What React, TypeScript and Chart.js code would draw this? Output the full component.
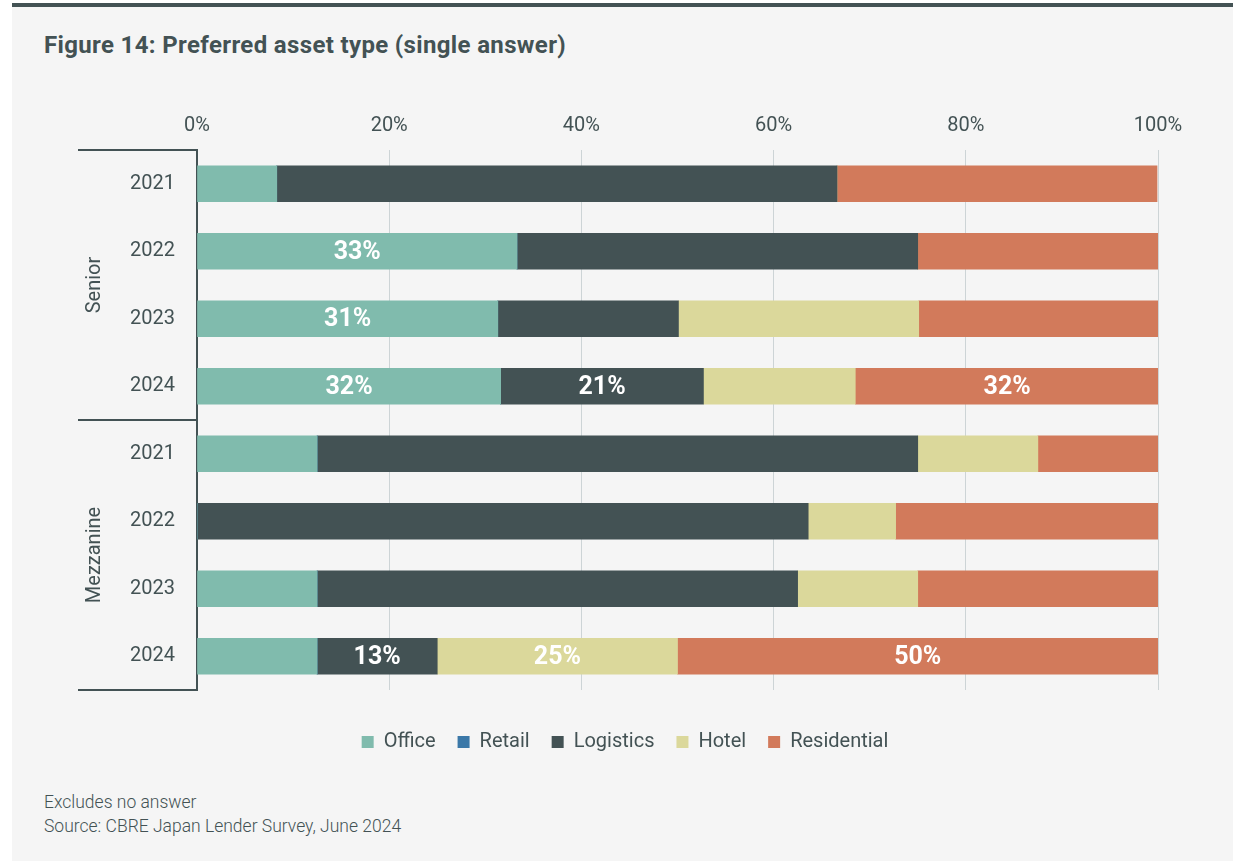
import React, { useEffect, useRef } from 'react';
import { Chart, registerables } from 'chart.js';
Chart.register(...registerables);

const categories = ['2021', '2022', '2023', '2024', '2021', '2022', '2023', '2024'];
const groups = ['Senior', 'Mezzanine'];
const groupSizes = [4, 4];
const xTicks = [0, 20, 40, 60, 80, 100];

const office = [8.3, 33.3, 31.3, 31.6, 12.5, 0, 12.5, 12.5];
const retail = [0, 0, 0, 0, 0, 0, 0, 0];
const logistics = [58.3, 41.7, 18.8, 21.1, 62.5, 63.6, 50, 12.5];
const hotel = [0, 0, 25, 15.8, 12.5, 9.1, 12.5, 25];
const residential = [33.3, 25, 25, 31.6, 12.5, 27.3, 25, 50];

const officeLabels = ['', '33%', '31%', '32%', '', '', '', ''];
const retailLabels = ['', '', '', '', '', '', '', ''];
const logisticsLabels = ['', '', '', '21%', '', '', '', '13%'];
const hotelLabels = ['', '', '', '', '', '', '', '25%'];
const residentialLabels = ['', '', '', '32%', '', '', '', '50%'];

const TEXT = '#435254';
const CANVAS_LEFT = 16;

export default function App() {
  const ref = useRef<HTMLCanvasElement>(null);
  useEffect(() => {
    document.body.style.margin = '0';
    const labelSets = [officeLabels, retailLabels, logisticsLabels, hotelLabels, residentialLabels];

    const barLabels = {
      id: 'barLabels',
      afterDatasetsDraw(chart: any) {
        const ctx = chart.ctx;
        ctx.save();
        ctx.font = 'bold 25px Roboto';
        ctx.fillStyle = '#ffffff';
        ctx.textAlign = 'center';
        ctx.textBaseline = 'middle';
        chart.data.datasets.forEach((ds: any, i: number) => {
          const meta = chart.getDatasetMeta(i);
          meta.data.forEach((el: any, j: number) => {
            const t = labelSets[i][j];
            if (!t) return;
            ctx.fillText(t, (el.x + el.base) / 2, el.y + 1);
          });
        });
        ctx.restore();
      },
    };

    const groupBrackets = {
      id: 'groupBrackets',
      afterDraw(chart: any) {
        const ctx = chart.ctx;
        const area = chart.chartArea;
        const y = chart.scales.y;
        const x0 = 78 - CANVAS_LEFT;
        ctx.save();
        ctx.strokeStyle = TEXT;
        ctx.lineWidth = 2;
        const bounds: number[] = [area.top];
        let idx = 0;
        groupSizes.forEach((n, g) => {
          idx += n;
          if (g < groupSizes.length - 1) {
            bounds.push((y.getPixelForValue(idx - 1) + y.getPixelForValue(idx)) / 2);
          }
        });
        bounds.push(area.bottom);
        bounds.forEach((b) => {
          ctx.beginPath();
          ctx.moveTo(x0, b);
          ctx.lineTo(area.left, b);
          ctx.stroke();
        });
        ctx.fillStyle = TEXT;
        ctx.font = '20px Roboto';
        ctx.textAlign = 'center';
        ctx.textBaseline = 'middle';
        groups.forEach((gname, g) => {
          const cy = (bounds[g] + bounds[g + 1]) / 2;
          ctx.save();
          ctx.translate(95 - CANVAS_LEFT, cy);
          ctx.rotate(-Math.PI / 2);
          ctx.fillText(gname, 0, 0);
          ctx.restore();
        });
        ctx.restore();
      },
    };

    const mk = (label: string, data: number[], color: string) => ({
      label,
      data,
      backgroundColor: color,
      borderWidth: 0,
      barThickness: 36,
    });

    const chart = new Chart(ref.current!, {
      type: 'bar',
      data: {
        labels: categories,
        datasets: [
          mk('Office', office, '#80BBAD'),
          mk('Retail', retail, '#3B78A8'),
          mk('Logistics', logistics, '#435254'),
          mk('Hotel', hotel, '#DBD89B'),
          mk('Residential', residential, '#D27A5B'),
        ],
      },
      options: {
        indexAxis: 'y',
        responsive: false,
        animation: false,
        layout: { padding: { left: 76, right: 75, top: 100, bottom: 18 } },
        scales: {
          x: {
            position: 'top',
            stacked: true,
            min: 0,
            max: 100,
            afterBuildTicks: (s: any) => {
              s.ticks = xTicks.map((v) => ({ value: v }));
            },
            afterFit: (s: any) => {
              s.height = 50;
            },
            ticks: {
              callback: (v: any) => v + '%',
              color: TEXT,
              font: { size: 20, family: 'Roboto' },
              padding: 12,
              maxRotation: 0,
            },
            grid: { color: '#CDD4D6', lineWidth: 1, drawTicks: false },
            border: { display: false },
          },
          xb: {
            axis: 'x',
            position: 'bottom',
            display: true,
            afterFit: (s: any) => {
              s.height = 20;
            },
            ticks: { display: false },
            grid: { display: false, drawTicks: false },
            border: { display: false },
          },
          y: {
            stacked: true,
            afterFit: (s: any) => {
              s.width = 197 - CANVAS_LEFT - 76;
            },
            ticks: {
              color: TEXT,
              font: { size: 20, family: 'Roboto' },
              padding: 22,
            },
            grid: { display: false, drawTicks: false },
            border: { display: true, color: TEXT, width: 2 },
          },
        } as any,
        plugins: {
          legend: {
            position: 'bottom',
            labels: {
              color: TEXT,
              font: { size: 20, family: 'Roboto' },
              boxWidth: 12,
              boxHeight: 12,
              padding: 22,
            },
          },
          tooltip: { enabled: false },
        },
      },
      plugins: [barLabels, groupBrackets],
    });
    return () => chart.destroy();
  }, []);

  return (
    <div style={{ position: 'absolute', left: 0, top: 0, width: 1233, height: 861, background: '#ffffff', overflow: 'hidden' }}>
      <div
        style={{
          position: 'absolute',
          left: 12,
          top: 3,
          width: 1221,
          height: 858,
          background: '#F5F5F5',
          borderTop: '4px solid #435254',
          boxSizing: 'border-box',
        }}
      />
      <div
        style={{
          position: 'absolute',
          left: 44,
          top: 31,
          fontFamily: 'Roboto',
          fontWeight: 700,
          fontSize: 24,
          letterSpacing: '0.35px',
          lineHeight: '28px',
          color: TEXT,
          whiteSpace: 'nowrap',
        }}
      >
        Figure 14: Preferred asset type (single answer)
      </div>
      <canvas
        ref={ref}
        width={1217}
        height={780}
        style={{ position: 'absolute', left: CANVAS_LEFT, top: 0, width: 1217, height: 780 }}
      />
      <div
        style={{
          position: 'absolute',
          left: 44,
          top: 790,
          fontFamily: 'Roboto',
          fontWeight: 300,
          fontSize: 17.5,
          lineHeight: '24px',
          color: TEXT,
          whiteSpace: 'nowrap',
        }}
      >
        <div>Excludes no answer</div>
        <div>Source: CBRE Japan Lender Survey, June 2024</div>
      </div>
    </div>
  );
}
